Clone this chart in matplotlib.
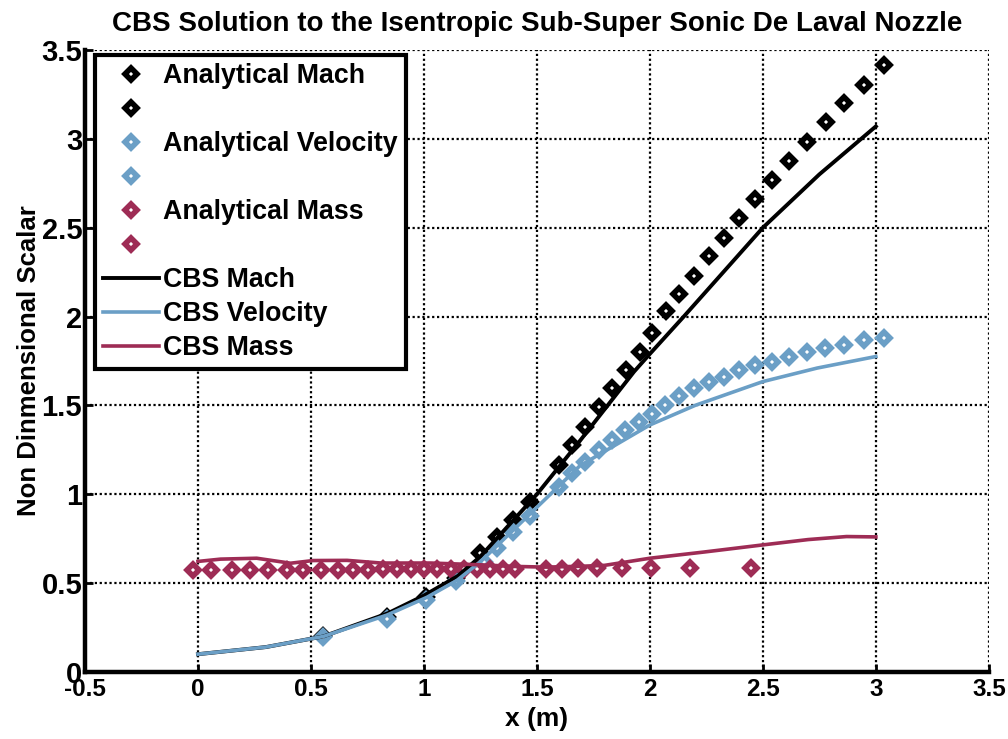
import numpy as np
import matplotlib
matplotlib.use('Agg')
import matplotlib.pyplot as plt

plt.rcParams['font.family'] = ['Liberation Sans', 'DejaVu Sans']
plt.rcParams['font.weight'] = 'bold'

# analytical points
mach_x = [0.555, 0.837, 1.01, 1.14, 1.25, 1.323, 1.396, 1.47, 1.596, 1.655, 1.714, 1.773,
          1.832, 1.893, 1.955, 2.009, 2.07, 2.13, 2.193, 2.26, 2.326, 2.396, 2.464, 2.54,
          2.614, 2.695, 2.78, 2.858, 2.947, 3.035]
mach_y = [0.2, 0.31, 0.42, 0.53, 0.67, 0.761, 0.855, 0.958, 1.165, 1.277, 1.38, 1.49,
          1.60, 1.70, 1.80, 1.91, 2.03, 2.125, 2.23, 2.341, 2.444, 2.557, 2.662, 2.769,
          2.876, 2.981, 3.093, 3.2, 3.303, 3.416]

vel_x = [0.555, 0.837, 1.01, 1.14, 1.264, 1.323, 1.396, 1.47, 1.596, 1.655, 1.714, 1.773,
         1.832, 1.891, 1.95, 2.009, 2.068, 2.13, 2.193, 2.26, 2.326, 2.393, 2.467, 2.54,
         2.614, 2.695, 2.777, 2.858, 2.947, 3.035]
vel_y = [0.197, 0.30, 0.405, 0.51, 0.62, 0.70, 0.79, 0.88, 1.043, 1.118, 1.183, 1.249,
         1.306, 1.36, 1.408, 1.45, 1.505, 1.553, 1.596, 1.634, 1.662, 1.70, 1.728, 1.746,
         1.774, 1.803, 1.822, 1.84, 1.868, 1.878]

mass_x = [-0.024, 0.057, 0.150, 0.231, 0.312, 0.393, 0.463, 0.544, 0.618, 0.687, 0.752,
          0.817, 0.882, 0.942, 1.002, 1.060, 1.118, 1.176, 1.234, 1.292, 1.350, 1.405,
          1.539, 1.609, 1.683, 1.767, 1.878, 2.003, 2.177, 2.448]
mass_y = [0.575, 0.575, 0.575, 0.575, 0.575, 0.575, 0.575, 0.575, 0.576, 0.576, 0.576,
          0.577, 0.577, 0.577, 0.578, 0.578, 0.578, 0.579, 0.579, 0.580, 0.580, 0.581,
          0.582, 0.582, 0.583, 0.583, 0.584, 0.584, 0.584, 0.584]

# CBS solution curves
cbs_mach_x = [0, 0.3, 0.555, 0.84, 1.0, 1.15, 1.25, 1.5, 1.69, 1.93, 2.0, 2.15, 2.5, 2.75, 3.0]
cbs_mach_y = [0.1, 0.14, 0.2, 0.33, 0.43, 0.54, 0.65, 1.0, 1.30, 1.69, 1.79, 2.0, 2.5, 2.80, 3.07]

cbs_vel_x = [0, 0.3, 0.555, 0.836, 1.013, 1.146, 1.25, 1.47, 1.69, 1.78, 2.0, 2.2, 2.5, 2.74, 3.0]
cbs_vel_y = [0.1, 0.14, 0.2, 0.32, 0.42, 0.515, 0.62, 0.89, 1.16, 1.227, 1.39, 1.5, 1.634, 1.71, 1.775]

cbs_mass_x = [0, 0.1, 0.26, 0.41, 0.51, 0.66, 0.81, 1.03, 1.25, 1.40, 1.54, 1.70, 1.80, 1.90,
              2.0, 2.24, 2.50, 2.7, 2.87, 3.0]
cbs_mass_y = [0.622, 0.635, 0.64, 0.612, 0.627, 0.628, 0.613, 0.613, 0.603, 0.594, 0.59,
              0.595, 0.60, 0.62, 0.64, 0.675, 0.715, 0.745, 0.762, 0.76]

c_mach = '#000000'
c_vel = '#6b9fc6'
c_mass = '#9e2c55'

fig = plt.figure(figsize=(10.08, 7.39), dpi=100)
ax = fig.add_axes([0.0843, 0.0907, 0.8967, 0.8417])

mk = dict(linestyle='none', marker='D', markersize=6.0, markeredgewidth=4.0,
          markerfacecolor='white')
p_mach, = ax.plot(mach_x, mach_y, color=c_mach, markeredgecolor=c_mach, **mk)
p_vel, = ax.plot(vel_x, vel_y, color=c_vel, markeredgecolor=c_vel, **mk)
p_mass, = ax.plot(mass_x, mass_y, color=c_mass, markeredgecolor=c_mass, **mk)

l_mach, = ax.plot(cbs_mach_x, cbs_mach_y, color=c_mach, lw=2.8)
l_vel, = ax.plot(cbs_vel_x, cbs_vel_y, color=c_vel, lw=2.6)
l_mass, = ax.plot(cbs_mass_x, cbs_mass_y, color=c_mass, lw=2.6)

ax.set_xlim(-0.5, 3.5)
ax.set_ylim(0, 3.5)
ax.set_xticks(np.arange(-0.5, 3.51, 0.5))
ax.set_yticks(np.arange(0, 3.51, 0.5))
ax.set_xticklabels(['-0.5', '0', '0.5', '1', '1.5', '2', '2.5', '3', '3.5'])
ax.set_yticklabels(['0', '0.5', '1', '1.5', '2', '2.5', '3', '3.5'])
ax.grid(True, color='black', linestyle=(0, (1, 1.2)), linewidth=1.6)
ax.set_axisbelow(True)

for s in ['top', 'right']:
    ax.spines[s].set_visible(False)
for s in ['left', 'bottom']:
    ax.spines[s].set_linewidth(3.2)
ax.tick_params(direction='in', length=6, width=2, pad=4)
ax.tick_params(axis='x', labelsize=17.5)
ax.tick_params(axis='y', labelsize=21, pad=2)

ax.set_title('CBS Solution to the Isentropic Sub-Super Sonic De Laval Nozzle',
             fontsize=20, fontweight='bold', pad=14)
ax.set_xlabel('x (m)', fontsize=19, fontweight='bold', labelpad=5)
ax.set_ylabel('Non Dinmensional Scalar', fontsize=18.5, fontweight='bold')
ax.yaxis.set_label_coords(-0.049, 0.5)

leg = ax.legend([p_mach, p_mach, p_vel, p_vel, p_mass, p_mass, l_mach, l_vel, l_mass],
                ['Analytical Mach', '', 'Analytical Velocity', '', 'Analytical Mass', '',
                 'CBS Mach', 'CBS Velocity', 'CBS Mass'],
                loc='upper left', bbox_to_anchor=(0.011, 0.992), borderaxespad=0,
                fontsize=19.3, numpoints=1, handlelength=2.1, handletextpad=0.15,
                labelspacing=0.3, borderpad=0.3, fancybox=False, framealpha=1,
                edgecolor='black')
leg.get_frame().set_linewidth(3)

fig.savefig('out.png', dpi=100)
